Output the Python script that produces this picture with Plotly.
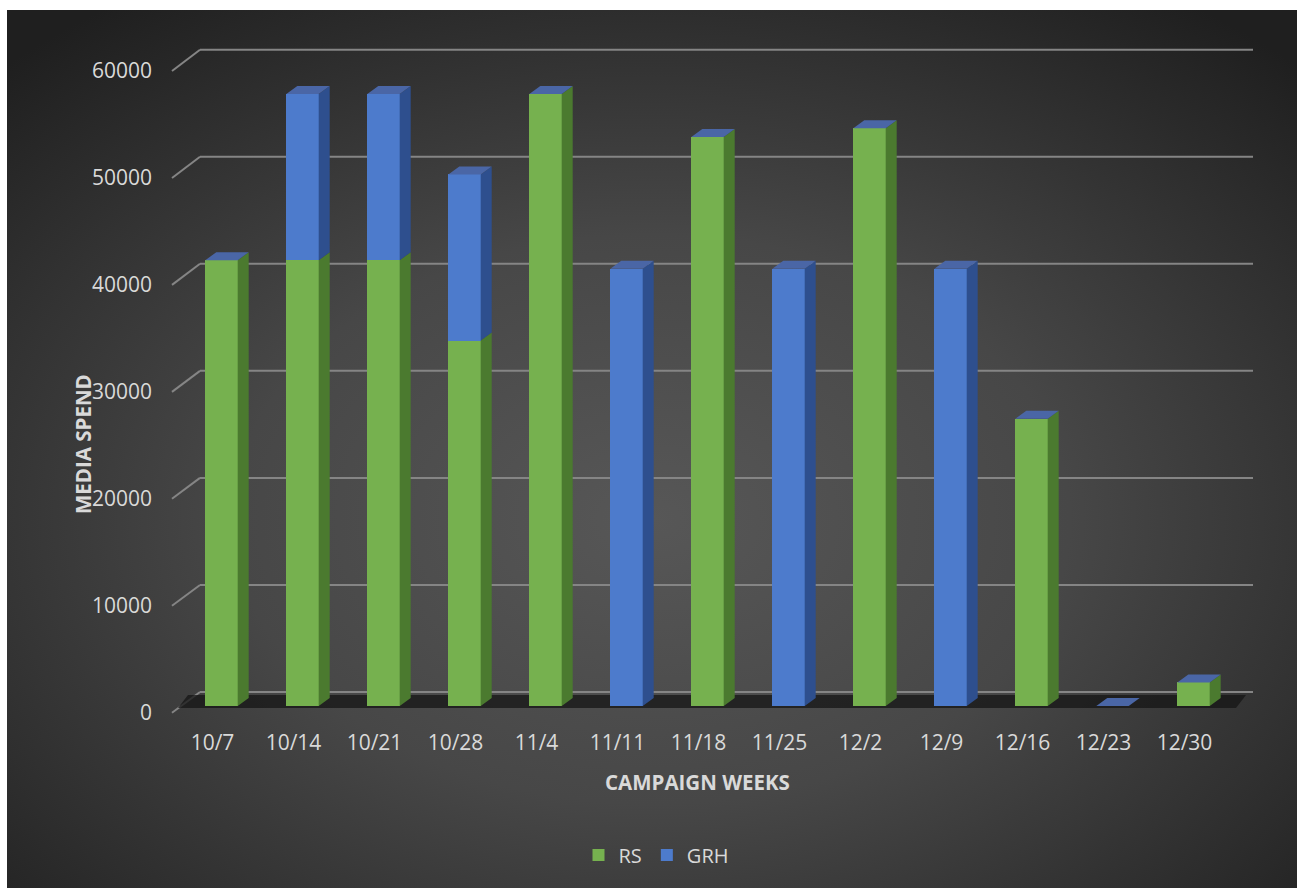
import base64
import plotly.graph_objects as go

# ---------------- data ----------------
weeks = ["10/7", "10/14", "10/21", "10/28", "11/4", "11/11", "11/18",
         "11/25", "12/2", "12/9", "12/16", "12/23", "12/30"]
rs = [41600, 41600, 41600, 34100, 57100, 0, 53100, 0, 53900, 0, 26800, 0, 2200]
grh = [0, 15500, 15500, 15500, 0, 40800, 0, 40800, 0, 40800, 0, 0, 0]
y_ticks = [0, 10000, 20000, 30000, 40000, 50000, 60000]
series_names = ["RS", "GRH"]

# ---------------- geometry helpers (pixels -> paper) ----------------
W, H = 1297, 888
def fx(p):
    return p / W
def fy(p):
    return 1 - p / H

YMAX = 60000
# front (bar) plane
BAR_Y0, BAR_Y60 = 706, 63
BAR_X0, BAR_X1 = 181, 1234
# back wall plane (gridlines)
BACK_Y0, BACK_Y60 = 692, 49.7
BACK_X0, BACK_X1 = 200, 1253
# label plane (left wall front edge)
LAB_Y0, LAB_Y60 = 712.7, 71
LAB_X = 172

px_per_unit_y = (BAR_Y0 - BAR_Y60) / YMAX
px_per_cat = (BAR_X1 - BAR_X0) / len(weeks)
BW = 0.4
DX = 11 / px_per_cat
DY = 8 / px_per_unit_y

green, green_side = "#76b14f", "#4b7a2f"
blue, blue_side = "#4d7bcc", "#2e4f8e"
top_col = "#4a66a6"
txt = "#d9d9d9"
FONT = "Open Sans"

idx = list(range(len(weeks)))

fig = go.Figure()

# side faces
def side_polys(bases, tops):
    xs, ys = [], []
    for i, (b, t) in enumerate(zip(bases, tops)):
        if t <= b:
            continue
        xr = i + BW / 2
        xs += [xr, xr + DX, xr + DX, xr, xr, None]
        ys += [b, b + DY, t + DY, t, b, None]
    return xs, ys

totals = [a + b for a, b in zip(rs, grh)]
for name, bases, tops, col in [
    ("RS", [0] * len(rs), rs, green_side),
    ("GRH", rs, totals, blue_side),
]:
    xs, ys = side_polys(bases, tops)
    fig.add_trace(go.Scatter(x=xs, y=ys, fill="toself", fillcolor=col, mode="lines",
                             line=dict(width=0, color=col), showlegend=False,
                             hoverinfo="skip"))

# top faces
txs, tys = [], []
for i, t in enumerate(totals):
    xl, xr = i - BW / 2, i + BW / 2
    txs += [xl, xl + DX, xr + DX, xr, xl, None]
    tys += [t, t + DY, t + DY, t, t, None]
fig.add_trace(go.Scatter(x=txs, y=tys, fill="toself", fillcolor=top_col, mode="lines",
                         line=dict(width=0, color=top_col), showlegend=False,
                         hoverinfo="skip"))

# front faces
fig.add_trace(go.Bar(x=idx, y=rs, name=series_names[0], width=BW,
                     marker=dict(color=green, line=dict(width=0))))
fig.add_trace(go.Bar(x=idx, y=grh, name=series_names[1], width=BW,
                     marker=dict(color=blue, line=dict(width=0))))

# invisible trace for the tick-label axis
fig.add_trace(go.Scatter(x=[0], y=[0], yaxis="y2", mode="markers",
                         marker=dict(opacity=0), showlegend=False, hoverinfo="skip"))

# ---------------- decorations ----------------
shapes = []
grid_col = "#858585"
for v in y_ticks:
    yb = BACK_Y0 - v * (BACK_Y0 - BACK_Y60) / YMAX
    yl = LAB_Y0 - v * (LAB_Y0 - LAB_Y60) / YMAX
    shapes.append(dict(type="line", xref="paper", yref="paper",
                       x0=fx(BACK_X0), x1=fx(BACK_X1), y0=fy(yb), y1=fy(yb),
                       line=dict(color=grid_col, width=2), layer="below"))
    shapes.append(dict(type="line", xref="paper", yref="paper",
                       x0=fx(LAB_X), x1=fx(BACK_X0), y0=fy(yl), y1=fy(yb),
                       line=dict(color=grid_col, width=2), layer="below"))
# floor shadow
pts = [(188, 695), (1246, 695), (1236, 708), (178, 708)]
path = "M " + " L ".join(f"{fx(a):.5f},{fy(b):.5f}" for a, b in pts) + " Z"
shapes.append(dict(type="path", xref="paper", yref="paper", path=path,
                   fillcolor="#161616", opacity=0.75, line=dict(width=0), layer="below"))

# background gradient image
svg = (
    '<svg xmlns="http://www.w3.org/2000/svg" width="1290" height="878" '
    'preserveAspectRatio="none" viewBox="0 0 1290 878">'
    '<defs><radialGradient id="g" cx="0.5" cy="0.58" r="0.72">'
    '<stop offset="0" stop-color="#575757"/>'
    '<stop offset="0.45" stop-color="#474747"/>'
    '<stop offset="1" stop-color="#1f1f1f"/>'
    '</radialGradient></defs>'
    '<rect width="1290" height="878" fill="url(#g)"/></svg>'
)
src = "data:image/svg+xml;base64," + base64.b64encode(svg.encode()).decode()

fig.update_layout(
    width=W, height=H,
    margin=dict(l=0, r=0, t=0, b=0, pad=0, autoexpand=False),
    paper_bgcolor="white",
    plot_bgcolor="rgba(0,0,0,0)",
    barmode="stack",
    bargap=0,
    shapes=shapes,
    images=[dict(source=src, xref="paper", yref="paper", x=fx(7), y=fy(10),
                 sizex=1 - fx(7), sizey=fy(10), sizing="stretch",
                 xanchor="left", yanchor="top", layer="below")],
    xaxis=dict(domain=[fx(BAR_X0), fx(BAR_X1)], range=[-0.5, len(weeks) - 0.5],
               tickmode="array", tickvals=idx, ticktext=weeks,
               showgrid=False, zeroline=False, showline=False, ticks="",
               ticklabelstandoff=22, ticklabelshift=-9, automargin=False,
               tickfont=dict(family=FONT, size=21, color=txt), fixedrange=True),
    yaxis=dict(domain=[fy(BAR_Y0), fy(BAR_Y60)], range=[0, YMAX],
               showgrid=False, zeroline=False, showline=False, automargin=False,
               showticklabels=False, ticks="", fixedrange=True),
    yaxis2=dict(domain=[fy(LAB_Y0), fy(LAB_Y60)], range=[0, YMAX],
                anchor="free", position=fx(LAB_X), side="left", automargin=False,
                tickmode="array", tickvals=y_ticks, ticktext=[str(v) for v in y_ticks],
                showgrid=False, zeroline=False, showline=False, ticks="",
                ticklabelstandoff=20,
                tickfont=dict(family=FONT, size=21, color=txt), fixedrange=True),
    legend=dict(orientation="h", x=fx(656), xanchor="center", y=fy(855),
                yanchor="middle", font=dict(family=FONT, size=20, color=txt),
                bgcolor="rgba(0,0,0,0)", traceorder="normal"),
    annotations=[
        dict(text="<b>MEDIA SPEND</b>", xref="paper", yref="paper",
             x=fx(83), y=fy(444), textangle=-90, showarrow=False,
             xanchor="center", yanchor="middle",
             font=dict(family=FONT, size=20.5, color=txt)),
        dict(text="<b>CAMPAIGN WEEKS</b>", xref="paper", yref="paper",
             x=fx(698), y=fy(782), showarrow=False,
             xanchor="center", yanchor="middle",
             font=dict(family=FONT, size=20.5, color=txt)),
    ],
)

fig.write_html("out.html")
